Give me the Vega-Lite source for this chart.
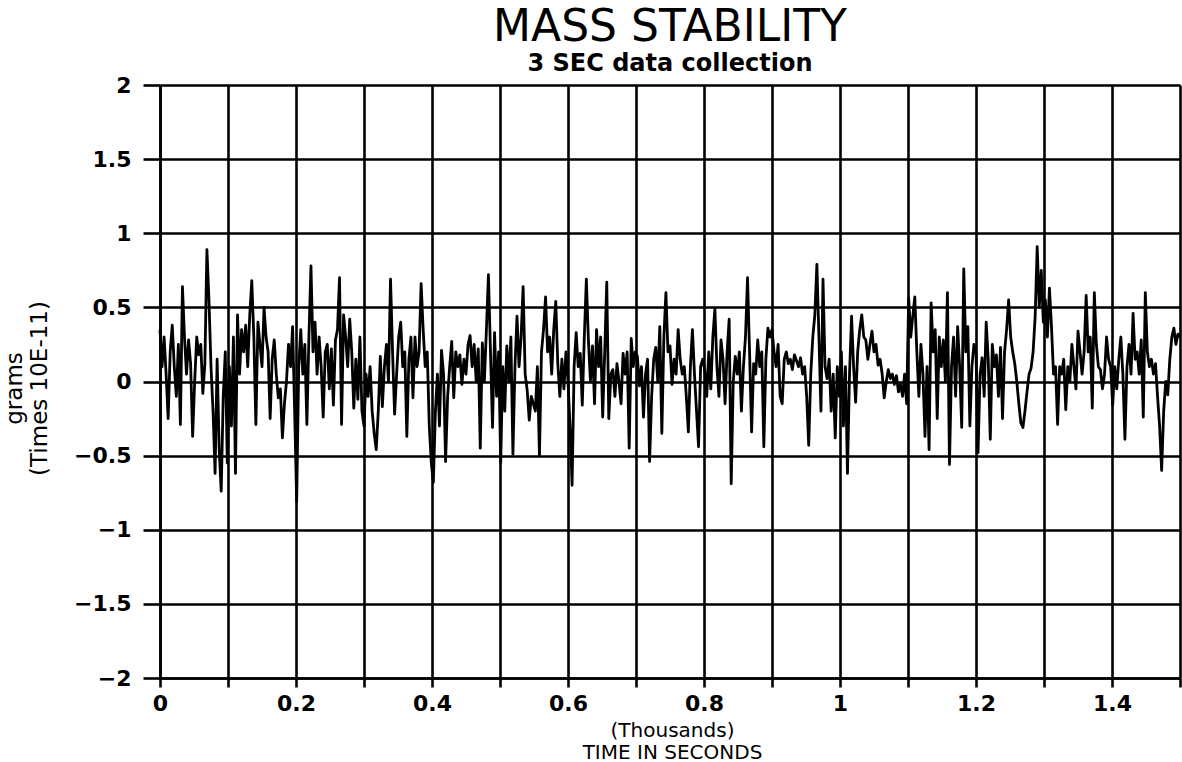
{
  "$schema": "https://vega.github.io/schema/vega-lite/v6.json",
  "width": 1020,
  "height": 593,
  "autosize": {"type": "none"},
  "padding": {"left": 160, "top": 85, "right": 2, "bottom": 84},
  "background": "white",
  "title": {
    "text": "MASS STABILITY",
    "subtitle": "3 SEC data collection",
    "anchor": "middle",
    "frame": "group",
    "font": "DejaVu Sans",
    "fontSize": 44,
    "fontWeight": "normal",
    "color": "black",
    "subtitleFont": "DejaVu Sans",
    "subtitleFontSize": 24,
    "subtitleFontWeight": "bold",
    "subtitleColor": "black",
    "subtitlePadding": 2,
    "offset": -2
  },
  "config": {
    "view": {"stroke": null},
    "axis": {
      "grid": true,
      "gridColor": "black",
      "gridOpacity": 1,
      "gridWidth": 2.6,
      "tickColor": "black",
      "tickWidth": 2.6,
      "domainColor": "black",
      "domainWidth": 2.6,
      "labelFont": "DejaVu Sans",
      "labelFontWeight": "bold",
      "labelFontSize": 22,
      "labelColor": "black",
      "labelOverlap": false,
      "labelFlush": false,
      "titleFont": "DejaVu Sans",
      "titleFontWeight": "normal",
      "titleColor": "black"
    }
  },
  "data": {
    "values": [
      {"t":0,"v":0.35},{"t":3,"v":0.1},{"t":6,"v":0.3},{"t":9,"v":0.05},{"t":12,"v":-0.25},{"t":15,"v":0.2},{"t":18,"v":0.38},{"t":21,"v":0.1},{"t":24,"v":-0.1},{"t":27,"v":0.25},{"t":30,"v":-0.29},{"t":33,"v":0.64},{"t":36,"v":0.3},{"t":39,"v":0.05},{"t":42,"v":0.28},{"t":45,"v":0.12},{"t":48,"v":-0.37},{"t":51,"v":0.0},{"t":54,"v":0.3},{"t":57,"v":0.18},{"t":60,"v":0.25},{"t":63,"v":-0.08},{"t":66,"v":0.12},{"t":69,"v":0.89},{"t":72,"v":0.55},{"t":75,"v":0.1},{"t":78,"v":-0.2},{"t":81,"v":-0.62},{"t":84,"v":0.15},{"t":87,"v":-0.45},{"t":90,"v":-0.74},{"t":93,"v":-0.1},{"t":96,"v":0.2},{"t":99,"v":-0.55},
      {"t":102,"v":0.1},{"t":105,"v":-0.3},{"t":108,"v":0.3},{"t":111,"v":-0.62},{"t":114,"v":0.45},{"t":117,"v":0.05},{"t":120,"v":0.35},{"t":123,"v":0.2},{"t":126,"v":0.38},{"t":129,"v":0.1},{"t":132,"v":0.45},{"t":135,"v":0.68},{"t":138,"v":0.3},{"t":141,"v":-0.29},{"t":144,"v":0.4},{"t":147,"v":0.25},{"t":150,"v":0.1},{"t":153,"v":0.5},{"t":156,"v":0.3},{"t":159,"v":0.2},{"t":162,"v":-0.25},{"t":165,"v":0.15},{"t":168,"v":0.28},{"t":171,"v":0.05},{"t":174,"v":-0.11},{"t":177,"v":-0.05},{"t":180,"v":-0.38},{"t":183,"v":-0.15},{"t":186,"v":0.0},{"t":189,"v":0.25},{"t":192,"v":0.1},{"t":195,"v":0.37},{"t":198,"v":-0.2},
      {"t":201,"v":-0.81},{"t":204,"v":0.1},{"t":207,"v":0.35},{"t":210,"v":0.05},{"t":213,"v":0.25},{"t":216,"v":-0.29},{"t":219,"v":0.3},{"t":222,"v":0.78},{"t":225,"v":0.2},{"t":228,"v":0.4},{"t":231,"v":0.05},{"t":234,"v":0.3},{"t":237,"v":0.1},{"t":240,"v":-0.24},{"t":243,"v":0.2},{"t":246,"v":0.25},{"t":249,"v":-0.05},{"t":252,"v":0.22},{"t":255,"v":-0.16},{"t":258,"v":0.28},{"t":261,"v":0.35},{"t":264,"v":0.7},{"t":267,"v":-0.29},{"t":270,"v":0.45},{"t":273,"v":0.3},{"t":276,"v":0.1},{"t":279,"v":0.42},{"t":282,"v":0.2},{"t":285,"v":-0.18},{"t":288,"v":0.15},{"t":291,"v":-0.12},{"t":294,"v":0.3},{"t":297,"v":-0.2},
      {"t":300,"v":-0.3},{"t":303,"v":0.05},{"t":306,"v":-0.1},{"t":309,"v":0.1},{"t":312,"v":-0.2},{"t":315,"v":-0.35},{"t":318,"v":-0.46},{"t":321,"v":-0.2},{"t":324,"v":0.17},{"t":327,"v":-0.17},{"t":330,"v":0.1},{"t":333,"v":0.25},{"t":336,"v":0.0},{"t":339,"v":0.69},{"t":342,"v":0.2},{"t":345,"v":-0.22},{"t":348,"v":0.05},{"t":351,"v":0.3},{"t":354,"v":0.4},{"t":357,"v":0.1},{"t":360,"v":0.2},{"t":363,"v":-0.37},{"t":366,"v":0.15},{"t":369,"v":0.3},{"t":372,"v":-0.11},{"t":375,"v":0.3},{"t":378,"v":0.1},{"t":381,"v":0.2},{"t":384,"v":0.66},{"t":387,"v":0.35},{"t":390,"v":0.1},{"t":393,"v":0.2},{"t":396,"v":-0.3},{"t":399,"v":-0.55},
      {"t":402,"v":-0.68},{"t":405,"v":-0.2},{"t":408,"v":0.05},{"t":411,"v":-0.3},{"t":414,"v":0.21},{"t":417,"v":0.05},{"t":420,"v":-0.54},{"t":423,"v":-0.1},{"t":426,"v":0.1},{"t":429,"v":0.27},{"t":432,"v":-0.11},{"t":435,"v":0.2},{"t":438,"v":0.1},{"t":441,"v":0.18},{"t":444,"v":-0.02},{"t":447,"v":0.15},{"t":450,"v":0.05},{"t":453,"v":0.25},{"t":456,"v":0.31},{"t":459,"v":0.1},{"t":462,"v":0.25},{"t":465,"v":0.0},{"t":468,"v":0.22},{"t":471,"v":-0.45},{"t":474,"v":0.26},{"t":477,"v":0.0},{"t":480,"v":0.35},{"t":483,"v":0.72},{"t":486,"v":0.2},{"t":489,"v":-0.31},{"t":492,"v":0.33},{"t":495,"v":-0.1},{"t":498,"v":0.2},
      {"t":501,"v":-0.55},{"t":504,"v":0.1},{"t":507,"v":-0.2},{"t":510,"v":0.24},{"t":513,"v":0.0},{"t":516,"v":0.3},{"t":519,"v":-0.49},{"t":522,"v":0.1},{"t":525,"v":0.44},{"t":528,"v":0.1},{"t":531,"v":0.3},{"t":534,"v":0.64},{"t":537,"v":0.05},{"t":540,"v":-0.06},{"t":543,"v":-0.26},{"t":546,"v":-0.1},{"t":549,"v":-0.15},{"t":552,"v":-0.2},{"t":555,"v":0.1},{"t":558,"v":-0.5},{"t":561,"v":0.2},{"t":564,"v":0.35},{"t":567,"v":0.57},{"t":570,"v":0.2},{"t":573,"v":0.3},{"t":576,"v":0.05},{"t":579,"v":0.35},{"t":582,"v":0.54},{"t":585,"v":0.12},{"t":588,"v":-0.1},{"t":591,"v":0.15},{"t":594,"v":-0.05},{"t":597,"v":0.2},
      {"t":600,"v":0.0},{"t":603,"v":-0.3},{"t":606,"v":-0.7},{"t":609,"v":0.1},{"t":612,"v":0.33},{"t":615,"v":0.1},{"t":618,"v":0.19},{"t":621,"v":-0.16},{"t":624,"v":0.3},{"t":627,"v":0.69},{"t":630,"v":0.28},{"t":633,"v":0.0},{"t":636,"v":0.24},{"t":639,"v":-0.15},{"t":642,"v":0.35},{"t":645,"v":0.1},{"t":648,"v":0.3},{"t":651,"v":-0.24},{"t":654,"v":0.2},{"t":657,"v":0.67},{"t":660,"v":-0.25},{"t":663,"v":0.05},{"t":666,"v":0.08},{"t":669,"v":-0.1},{"t":672,"v":0.12},{"t":675,"v":0.0},{"t":678,"v":-0.15},{"t":681,"v":0.19},{"t":684,"v":0.05},{"t":687,"v":0.2},{"t":690,"v":-0.45},{"t":693,"v":0.29},{"t":696,"v":0.1},{"t":699,"v":0.2},
      {"t":702,"v":0.17},{"t":705,"v":-0.03},{"t":708,"v":0.1},{"t":711,"v":-0.24},{"t":714,"v":0.05},{"t":717,"v":0.15},{"t":720,"v":-0.54},{"t":723,"v":-0.1},{"t":726,"v":0.15},{"t":729,"v":0.23},{"t":732,"v":0.0},{"t":735,"v":0.37},{"t":738,"v":-0.35},{"t":741,"v":0.3},{"t":744,"v":0.6},{"t":747,"v":0.2},{"t":750,"v":0.24},{"t":753,"v":-0.02},{"t":756,"v":0.15},{"t":759,"v":0.05},{"t":762,"v":0.35},{"t":765,"v":0.15},{"t":768,"v":0.05},{"t":771,"v":0.1},{"t":774,"v":-0.1},{"t":777,"v":-0.34},{"t":780,"v":0.1},{"t":783,"v":0.35},{"t":786,"v":0.05},{"t":789,"v":-0.2},{"t":792,"v":-0.44},{"t":795,"v":0.1},{"t":798,"v":0.15},
      {"t":801,"v":0.08},{"t":804,"v":-0.1},{"t":807,"v":0.2},{"t":810,"v":-0.05},{"t":813,"v":0.3},{"t":816,"v":0.49},{"t":819,"v":0.1},{"t":822,"v":-0.1},{"t":825,"v":0.28},{"t":828,"v":0.15},{"t":831,"v":-0.15},{"t":834,"v":0.2},{"t":837,"v":0.42},{"t":840,"v":-0.69},{"t":843,"v":0.0},{"t":846,"v":0.17},{"t":849,"v":0.05},{"t":852,"v":0.2},{"t":855,"v":-0.2},{"t":858,"v":0.1},{"t":861,"v":0.3},{"t":864,"v":0.7},{"t":867,"v":0.2},{"t":870,"v":-0.34},{"t":873,"v":0.12},{"t":876,"v":0.05},{"t":879,"v":0.28},{"t":882,"v":0.1},{"t":885,"v":0.2},{"t":888,"v":-0.44},{"t":891,"v":0.15},{"t":894,"v":0.36},{"t":897,"v":0.3},
      {"t":900,"v":0.35},{"t":903,"v":0.2},{"t":906,"v":0.1},{"t":909,"v":0.25},{"t":912,"v":-0.1},{"t":915,"v":-0.15},{"t":918,"v":0.15},{"t":921,"v":0.2},{"t":924,"v":0.12},{"t":927,"v":0.15},{"t":930,"v":0.08},{"t":933,"v":0.18},{"t":936,"v":0.14},{"t":939,"v":0.1},{"t":942,"v":0.16},{"t":945,"v":0.05},{"t":948,"v":0.1},{"t":951,"v":-0.1},{"t":954,"v":-0.43},{"t":957,"v":0.05},{"t":960,"v":0.3},{"t":963,"v":0.45},{"t":966,"v":0.79},{"t":969,"v":0.3},{"t":972,"v":-0.2},{"t":975,"v":0.69},{"t":978,"v":0.1},{"t":981,"v":0.02},{"t":984,"v":0.15},{"t":987,"v":-0.2},{"t":990,"v":0.05},{"t":993,"v":-0.38},{"t":996,"v":0.1},{"t":999,"v":-0.1},
      {"t":1002,"v":0.2},{"t":1005,"v":-0.3},{"t":1008,"v":0.1},{"t":1011,"v":-0.62},{"t":1014,"v":0.05},{"t":1017,"v":0.44},{"t":1020,"v":0.1},{"t":1023,"v":-0.14},{"t":1026,"v":0.2},{"t":1029,"v":0.35},{"t":1032,"v":0.45},{"t":1035,"v":0.3},{"t":1038,"v":0.28},{"t":1041,"v":0.15},{"t":1044,"v":0.25},{"t":1047,"v":0.34},{"t":1050,"v":0.2},{"t":1053,"v":0.25},{"t":1056,"v":0.11},{"t":1059,"v":0.15},{"t":1062,"v":0.05},{"t":1065,"v":-0.11},{"t":1068,"v":0.0},{"t":1071,"v":0.08},{"t":1074,"v":0.02},{"t":1077,"v":0.05},{"t":1080,"v":-0.02},{"t":1083,"v":0.04},{"t":1086,"v":-0.07},{"t":1089,"v":-0.02},{"t":1092,"v":-0.1},{"t":1095,"v":0.05},{"t":1098,"v":-0.15},
      {"t":1101,"v":0.56},{"t":1104,"v":0.3},{"t":1107,"v":0.44},{"t":1110,"v":0.57},{"t":1113,"v":0.2},{"t":1116,"v":-0.1},{"t":1119,"v":0.25},{"t":1122,"v":0.05},{"t":1125,"v":-0.37},{"t":1128,"v":0.1},{"t":1131,"v":-0.46},{"t":1134,"v":0.53},{"t":1137,"v":0.2},{"t":1140,"v":0.35},{"t":1143,"v":-0.25},{"t":1146,"v":0.3},{"t":1149,"v":0.1},{"t":1152,"v":0.28},{"t":1155,"v":0.0},{"t":1158,"v":0.6},{"t":1161,"v":-0.56},{"t":1164,"v":0.1},{"t":1167,"v":0.3},{"t":1170,"v":-0.1},{"t":1173,"v":0.37},{"t":1176,"v":0.1},{"t":1179,"v":-0.31},{"t":1182,"v":0.76},{"t":1185,"v":0.2},{"t":1188,"v":0.37},{"t":1191,"v":-0.3},{"t":1194,"v":0.1},{"t":1197,"v":0.25},
      {"t":1200,"v":0.2},{"t":1203,"v":-0.48},{"t":1206,"v":0.05},{"t":1209,"v":0.16},{"t":1212,"v":-0.1},{"t":1215,"v":0.4},{"t":1218,"v":0.15},{"t":1221,"v":-0.39},{"t":1224,"v":0.25},{"t":1227,"v":0.1},{"t":1230,"v":0.18},{"t":1233,"v":-0.1},{"t":1236,"v":0.23},{"t":1239,"v":-0.25},{"t":1242,"v":0.2},{"t":1245,"v":0.35},{"t":1248,"v":0.55},{"t":1251,"v":0.3},{"t":1254,"v":0.2},{"t":1257,"v":0.12},{"t":1260,"v":0.0},{"t":1263,"v":-0.15},{"t":1266,"v":-0.28},{"t":1269,"v":-0.31},{"t":1272,"v":-0.2},{"t":1275,"v":-0.07},{"t":1278,"v":0.05},{"t":1281,"v":0.09},{"t":1284,"v":0.2},{"t":1287,"v":0.44},{"t":1290,"v":0.91},{"t":1293,"v":0.5},{"t":1296,"v":0.75},
      {"t":1299,"v":0.4},{"t":1302,"v":0.55},{"t":1305,"v":0.3},{"t":1308,"v":0.63},{"t":1311,"v":0.37},{"t":1314,"v":0.05},{"t":1317,"v":0.1},{"t":1320,"v":-0.29},{"t":1323,"v":0.1},{"t":1326,"v":0.05},{"t":1329,"v":0.15},{"t":1332,"v":-0.19},{"t":1335,"v":0.1},{"t":1338,"v":0.0},{"t":1341,"v":0.25},{"t":1344,"v":0.1},{"t":1347,"v":-0.05},{"t":1350,"v":0.34},{"t":1353,"v":0.2},{"t":1356,"v":0.05},{"t":1359,"v":0.2},{"t":1362,"v":0.58},{"t":1365,"v":0.2},{"t":1368,"v":0.3},{"t":1371,"v":-0.18},{"t":1374,"v":0.6},{"t":1377,"v":0.25},{"t":1380,"v":0.1},{"t":1383,"v":0.08},{"t":1386,"v":-0.05},{"t":1389,"v":0.05},{"t":1392,"v":0.3},{"t":1395,"v":0.15},{"t":1398,"v":0.1},
      {"t":1401,"v":-0.16},{"t":1404,"v":0.1},{"t":1407,"v":-0.05},{"t":1410,"v":0.15},{"t":1413,"v":0.3},{"t":1416,"v":0.05},{"t":1419,"v":-0.39},{"t":1422,"v":0.1},{"t":1425,"v":0.25},{"t":1428,"v":0.05},{"t":1431,"v":0.46},{"t":1434,"v":0.15},{"t":1437,"v":0.2},{"t":1440,"v":0.05},{"t":1443,"v":0.28},{"t":1446,"v":-0.24},{"t":1449,"v":0.6},{"t":1452,"v":0.2},{"t":1455,"v":0.1},{"t":1458,"v":0.15},{"t":1461,"v":0.05},{"t":1464,"v":0.12},{"t":1467,"v":-0.1},{"t":1470,"v":-0.3},{"t":1473,"v":-0.6},{"t":1476,"v":-0.2},{"t":1479,"v":0.0},{"t":1482,"v":-0.09},{"t":1485,"v":0.15},{"t":1488,"v":0.3},{"t":1491,"v":0.36},{"t":1494,"v":0.25},{"t":1497,"v":0.32},{"t":1500,"v":0.3}
    ]
  },
  "mark": {"type": "line", "color": "black", "strokeWidth": 2.8, "strokeJoin": "round"},
  "encoding": {
    "x": {
      "field": "t",
      "type": "quantitative",
      "scale": {"domain": [0, 1500], "nice": false, "zero": false},
      "axis": {
        "title": ["(Thousands)", "TIME IN SECONDS"],
        "values": [0, 100, 200, 300, 400, 500, 600, 700, 800, 900, 1000, 1100, 1200, 1300, 1400, 1500],
        "labelExpr": "datum.value % 200 === 0 && datum.value < 1500 ? format(datum.value / 1000, '~g') : ''",
        "tickSize": 9,
        "labelPadding": 6,
        "titleFontSize": 20,
        "titleLineHeight": 22,
        "titleX": 512,
        "titleY": 58,
        "titleAlign": "center",
        "titleBaseline": "alphabetic"
      }
    },
    "y": {
      "field": "v",
      "type": "quantitative",
      "scale": {"domain": [-2, 2], "nice": false, "zero": false},
      "axis": {
        "title": ["grams", "(Times 10E-11)"],
        "values": [-2, -1.5, -1, -0.5, 0, 0.5, 1, 1.5, 2],
        "format": "~g",
        "tickSize": 17,
        "labelPadding": 12,
        "titleFontSize": 23,
        "titleLineHeight": 25,
        "titleAngle": -90,
        "titleX": -139,
        "titleY": 303,
        "titleAlign": "center",
        "titleBaseline": "alphabetic"
      }
    }
  }
}
